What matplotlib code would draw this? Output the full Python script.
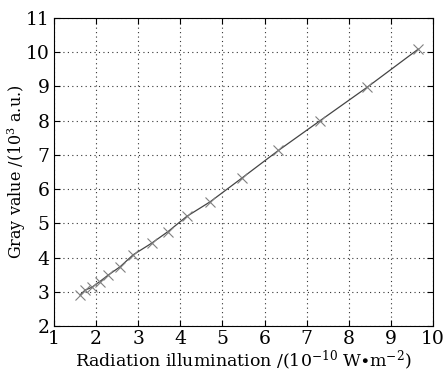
import matplotlib
matplotlib.use("Agg")
import matplotlib.pyplot as plt

plt.rcParams['font.family'] = 'DejaVu Serif'
plt.rcParams['mathtext.fontset'] = 'dejavuserif'

# Measured irradiance (1e-10 W/m^2) and detector gray value (1e3 a.u.)
illumination = [1.62, 1.74, 1.90, 2.09, 2.29, 2.57, 2.88, 3.32, 3.71, 4.15,
                4.71, 5.46, 6.33, 7.32, 8.43, 9.65]
gray_value = [2.91, 3.05, 3.13, 3.30, 3.49, 3.73, 4.08, 4.42, 4.76, 5.20,
              5.63, 6.32, 7.13, 8.00, 8.97, 10.09]

x_ticks = list(range(1, 11))
y_ticks = list(range(2, 12))

fig = plt.figure(figsize=(4.45, 3.75), dpi=100)
ax = fig.add_axes([0.1213, 0.1307, 0.973 - 0.1213, 0.952 - 0.1307])

ax.plot(illumination, gray_value, color='#444444', linewidth=0.9,
        marker='x', markersize=7, markeredgecolor='#808080',
        markeredgewidth=0.8)

ax.set_xlim(1, 10)
ax.set_ylim(2, 11)
ax.set_xticks(x_ticks)
ax.set_yticks(y_ticks)
ax.grid(True, linestyle=(0, (1, 3)), color='#333333', linewidth=0.8)
ax.tick_params(direction='in', top=True, right=True, length=4,
               labelsize=13.5, pad=3)
for s in ax.spines.values():
    s.set_linewidth(0.8)

ax.set_xlabel(r'Radiation illumination /(10$^{-10}$ W$\bullet$m$^{-2}$)',
              fontsize=12.5, labelpad=0)
ax.set_ylabel(r'Gray value /(10$^{3}$ a.u.)', fontsize=11.5)
ax.yaxis.set_label_coords(-0.068, 0.5)

fig.savefig('out.png', dpi=100)
